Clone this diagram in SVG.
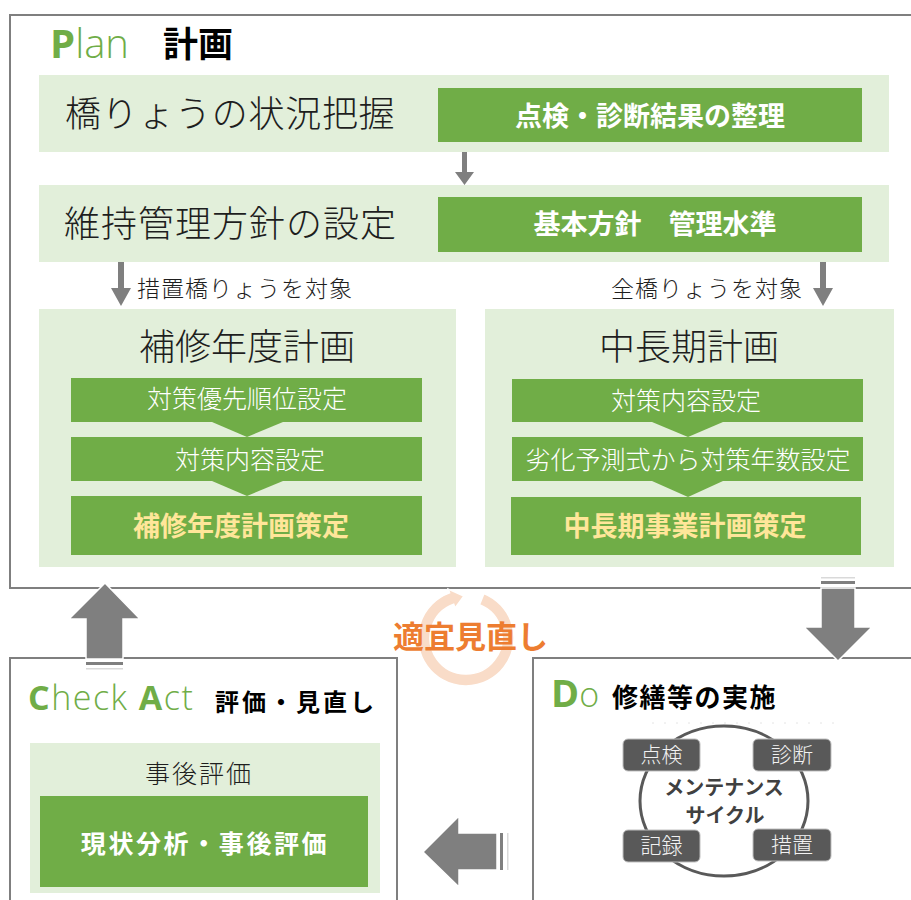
<svg xmlns="http://www.w3.org/2000/svg" width="911" height="900" viewBox="0 0 911 900">
<style>
.jp{font-family:"Noto Sans CJK JP","Noto Sans",sans-serif}
.lat{font-family:"Open Sans","Liberation Sans",sans-serif}
.frame{fill:#fff;stroke:#7f7f7f;stroke-width:2}
.band{fill:#e2efda}
.gbox{fill:#70ad47}
.tri{fill:#70ad47}
.arr{fill:#7f7f7f}
.big{fill:#7f7f7f;stroke:#fff;stroke-width:1.5}
.head{font-size:36px;font-weight:300;fill:#1e1e1e}
.wbold{font-size:27px;font-weight:700;fill:#fff}
.wlight{font-size:25px;font-weight:300;fill:#fff}
.ybold{font-size:27px;font-weight:700;fill:#ffe699}
.lbl{font-size:23px;font-weight:300;fill:#1e1e1e;letter-spacing:1px}
.cyc{fill:#595959;stroke:#bfbfbf;stroke-width:1}
.cyct{font-size:21px;font-weight:300;fill:#f2f2f2}
</style>

<!-- Frames -->
<g id="plan">
<rect class="frame" x="10" y="15" width="930" height="573"/>
<text class="lat" x="50" y="58" font-size="40" fill="#70ad47"><tspan font-weight="700">P</tspan><tspan font-weight="300">lan</tspan></text>
<text class="jp" x="163" y="57" font-size="35" font-weight="700" fill="#000">計画</text>
</g>
<g id="check">
<rect class="frame" x="10" y="658" width="387" height="262"/>
<text class="lat" x="28" y="710" font-size="34" fill="#70ad47" letter-spacing="1.5"><tspan font-weight="700">C</tspan><tspan font-weight="300">heck </tspan><tspan font-weight="700">A</tspan><tspan font-weight="300">ct</tspan></text>
<text class="jp" x="215" y="711" font-size="24" font-weight="700" fill="#000" letter-spacing="3">評価・見直し</text>
</g>
<g id="do">
<rect class="frame" x="533" y="658" width="400" height="262"/>
<text class="lat" x="551" y="707" font-size="38" fill="#70ad47"><tspan font-weight="700">D</tspan><tspan font-weight="300" font-size="34">o</tspan></text>
<text class="jp" x="612" y="707" font-size="26" font-weight="700" fill="#000" letter-spacing="1.5">修繕等の実施</text>
</g>

<!-- Plan rows -->
<g id="row1">
<rect class="band" x="39" y="75" width="850" height="77"/>
<text class="jp head" x="65" y="127" letter-spacing="0.7">橋りょうの状況把握</text>
<rect class="gbox" x="438" y="88" width="424" height="54"/>
<text class="jp wbold" x="650" y="126" text-anchor="middle">点検・診断結果の整理</text>
</g>
<g id="row2">
<rect class="band" x="39" y="185" width="850" height="77"/>
<text class="jp head" x="64" y="237" letter-spacing="1">維持管理方針の設定</text>
<rect class="gbox" x="438" y="197" width="424" height="55"/>
<text class="jp wbold" x="655" y="234" text-anchor="middle">基本方針　管理水準</text>
</g>

<g id="hoshu">
<rect class="band" x="39" y="309" width="417" height="258"/>
<text class="jp head" x="247" y="360" text-anchor="middle">補修年度計画</text>
<rect class="gbox" x="71" y="378" width="351" height="44"/>
<text class="jp wlight" x="247" y="408" text-anchor="middle">対策優先順位設定</text>
<rect class="gbox" x="71" y="437" width="351" height="44"/>
<text class="jp wlight" x="250" y="469" text-anchor="middle">対策内容設定</text>
<rect class="gbox" x="71" y="496" width="351" height="59"/>
<text class="jp ybold" x="241" y="536" text-anchor="middle">補修年度計画策定</text>
<polygon class="tri" points="212,422 283,422 247,437"/>
<polygon class="tri" points="212,481 283,481 247,496"/>
</g>

<g id="chuchoki">
<rect class="band" x="485" y="309" width="409" height="258"/>
<text class="jp head" x="689" y="360" text-anchor="middle">中長期計画</text>
<rect class="gbox" x="512" y="379" width="351" height="43"/>
<text class="jp wlight" x="686" y="410" text-anchor="middle">対策内容設定</text>
<rect class="gbox" x="512" y="437" width="351" height="44"/>
<text class="jp wlight" x="688" y="469" text-anchor="middle">劣化予測式から対策年数設定</text>
<rect class="gbox" x="511" y="497" width="350" height="58"/>
<text class="jp ybold" x="685" y="536" text-anchor="middle">中長期事業計画策定</text>
<polygon class="tri" points="652,422 723,422 688,437"/>
<polygon class="tri" points="652,481 723,481 688,497"/>
</g>

<!-- Check content -->
<g id="jigo">
<rect class="band" x="30" y="743" width="350" height="150"/>
<text class="jp" x="199" y="783" font-size="25" font-weight="300" fill="#1e1e1e" text-anchor="middle" letter-spacing="2">事後評価</text>
<rect class="gbox" x="40" y="796" width="328" height="91"/>
<text class="jp" x="205" y="853" font-size="25" font-weight="700" fill="#fff" text-anchor="middle" letter-spacing="2.6">現状分析・事後評価</text>
</g>

<!-- Do content: maintenance cycle -->
<g id="cycle">
<line x1="652" y1="723" x2="835" y2="723" stroke="#ccc" stroke-width="1" stroke-dasharray="2 10" opacity="0.5"/>
<ellipse cx="724" cy="801" rx="84" ry="75" fill="#fff" stroke="#595959" stroke-width="3"/>
<text class="jp" x="724" y="795" font-size="20" font-weight="700" fill="#404040" text-anchor="middle">メンテナンス</text>
<text class="jp" x="725" y="823" font-size="20" font-weight="700" fill="#404040" text-anchor="middle">サイクル</text>
</g>
<g id="tenken"><rect class="cyc" x="623" y="739" width="77" height="32" rx="5"/><text class="jp cyct" x="661.5" y="762" text-anchor="middle">点検</text></g>
<g id="shindan"><rect class="cyc" x="753" y="739" width="78" height="32" rx="5"/><text class="jp cyct" x="792" y="762" text-anchor="middle">診断</text></g>
<g id="kiroku"><rect class="cyc" x="623" y="830" width="77" height="32" rx="5"/><text class="jp cyct" x="661.5" y="853" text-anchor="middle">記録</text></g>
<g id="sochi"><rect class="cyc" x="753" y="829" width="78" height="32" rx="5"/><text class="jp cyct" x="792" y="852" text-anchor="middle">措置</text></g>

<!-- Connectors -->
<g id="connectors">
<polygon class="arr" points="462,152 467,152 467,172 474,172 464.5,185 455,172 462,172"/>
<polygon class="arr" points="118,262 124,262 124,288 131,288 121,306 111,288 118,288"/>
<polygon class="arr" points="820,262 826,262 826,288 833,288 823,306 813,288 820,288"/>
<text class="jp lbl" x="137" y="297">措置橋りょうを対象</text>
<text class="jp lbl" x="611" y="297">全橋りょうを対象</text>

<!-- review ring -->
<path d="M483.98,593.5 A48,48 0 1 1 449.6,592.9 L448.2,589.1 L463.8,596.1 L455.1,607.9 L453.7,604.2 A36,36 0 1 0 479.5,604.6 Z" fill="#f9dcc8" stroke="#fff" stroke-width="1.5"/>
<text class="jp" x="393" y="648" font-size="31" font-weight="700" fill="#ed7d31">適宜見直し</text>

<!-- up arrow (Check -> Plan) -->
<polygon class="big" points="105,583 140,619 123,619 123,659 86,659 86,619 69,619"/>
<rect x="86" y="662" width="37" height="3" fill="#7f7f7f"/>
<rect x="86" y="668" width="37" height="1.5" fill="#d9d9d9"/>

<!-- down arrow (Plan -> Do) -->
<rect x="821" y="577" width="34" height="1.5" fill="#d9d9d9"/>
<rect x="821" y="581" width="34" height="3" fill="#7f7f7f"/>
<polygon class="big" points="821,588 855,588 855,627 872,627 838,661 804,627 821,627"/>

<!-- left arrow (Do -> Check) -->
<polygon class="big" points="423,852 459,816 459,833 497,833 497,870 459,870 459,887"/>
<rect x="500" y="833" width="3" height="37" fill="#7f7f7f"/>
<rect x="507" y="833" width="1.5" height="37" fill="#d9d9d9"/>
</g>
</svg>
